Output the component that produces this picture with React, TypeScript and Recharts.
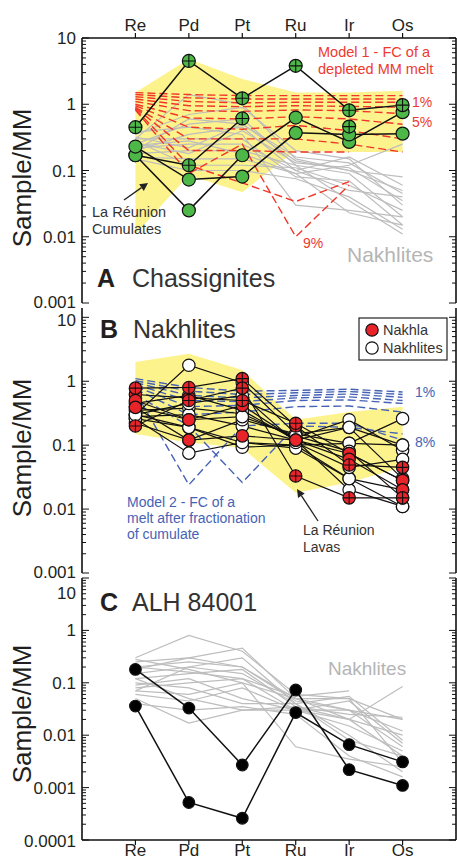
import { Area, ComposedChart, Line, Scatter, XAxis, YAxis } from 'recharts';

const FONT = '"Liberation Sans", Arial, Helvetica, sans-serif';
const INK = '#231f20';

const ELEMENTS = ['Re', 'Pd', 'Pt', 'Ru', 'Ir', 'Os'];
const X_INDEX = [0, 1, 2, 3, 4, 5];

// ---- panel A: chassignites ----
const cumulateLow = [0.011, 0.085, 0.047, 0.2, 0.19, 0.19];
const cumulateHigh = [1.5, 4.8, 2.4, 1.5, 1.5, 1.6];

const chassigniteLines = [
  [0.45, 4.5, 1.23, 3.8, 0.81, 0.97],
  [0.17, 0.12, 0.61, null, 0.46, null],
  [0.17, 0.025, 0.17, 0.63, 0.27, 0.76],
  [0.23, 0.073, 0.081, 0.37, 0.35, 0.36],
];
// 1 = crossed symbol
const chassigniteCross = [
  [1, 1, 1, 1, 1, 1],
  [0, 1, 1, 0, 1, 0],
  [0, 0, 0, 0, 0, 0],
  [0, 0, 0, 0, 0, 0],
];

const model1Lines = [
  [1.5, 1.4, 1.35, 1.35, 1.35, 1.35],
  [1.4, 1.25, 1.2, 1.2, 1.2, 1.2],
  [1.3, 1.1, 1.05, 1.07, 1.07, 1.07],
  [1.2, 0.95, 0.92, 0.95, 0.93, 0.9],
  [1.1, 0.8, 0.78, 0.82, 0.8, 0.72],
  [1.0, 0.62, 0.6, 0.65, 0.6, 0.5],
  [0.95, 0.45, 0.42, 0.48, 0.4, 0.3],
  [0.9, 0.3, 0.3, 0.3, 0.25, 0.19],
  [0.88, 0.2, 0.2, 0.19, 0.19, null],
  [0.85, 0.12, 0.065, 0.034, 0.068, null],
  [0.82, 0.09, 0.25, 0.01, 0.06, null],
];

const nakhliteGreyA = [
  [0.3, 1.4, 1.0, 0.15, 0.1, 0.05],
  [0.35, 0.7, 0.9, 0.2, 0.15, 0.03],
  [0.25, 0.5, 0.6, 0.12, 0.09, 0.02],
  [0.2, 0.35, 0.45, 0.1, 0.16, 0.06],
  [0.3, 0.3, 0.3, 0.08, 0.07, 0.015],
  [0.22, 0.25, 0.25, 0.1, 0.05, 0.04],
  [0.18, 0.2, 0.2, 0.12, 0.035, 0.011],
  [0.16, 0.15, 0.15, 0.09, 0.12, 0.25],
  [0.28, 0.12, 0.12, 0.11, 0.06, 0.025],
  [0.15, 0.1, 0.1, 0.075, 0.04, 0.013],
  [0.38, 0.45, 0.35, 0.03, 0.025, 0.02],
  [0.2, 0.6, 0.5, 0.14, 0.1, 0.08],
  [0.26, 0.18, 0.4, 0.13, 0.11, 0.035],
  [0.24, 0.28, 0.18, 0.09, 0.023, 0.015],
  [0.32, 0.22, 0.5, 0.16, 0.13, 0.045],
];

// ---- panel B: nakhlites ----
const lavaLow = [0.15, 0.11, 0.09, 0.018, 0.026, 0.045];
const lavaHigh = [2.0, 2.7, 1.5, 0.25, 0.33, 0.4];

const model2Lines = [
  [1.1, 0.8, 0.7, 0.72, 0.75, 0.68],
  [1.02, 0.7, 0.62, 0.66, 0.69, 0.62],
  [0.95, 0.6, 0.55, 0.6, 0.63, 0.56],
  [0.88, 0.5, 0.48, 0.55, 0.57, 0.5],
  [0.82, 0.4, 0.42, 0.5, 0.51, 0.45],
  [0.75, 0.3, 0.33, 0.4, 0.41, 0.33],
  [0.68, 0.024, 0.2, 0.22, 0.22, 0.12],
  [0.62, 0.2, 0.026, 0.2, 0.19, 0.15],
];

const nakhlaLines = [
  [0.78, 0.8, 1.1, 0.2, 0.049, 0.045],
  [0.2, 0.5, 0.78, 0.033, 0.015, 0.015],
  [0.62, 0.55, 0.5, 0.22, 0.074, 0.028],
  [0.5, 0.25, 0.42, 0.12, 0.074, 0.028],
  [0.39, 0.12, 0.14, 0.12, 0.06, 0.02],
];
const nakhlaCross = [
  [1, 1, 1, 1, 1, 1],
  [1, 1, 1, 1, 1, 1],
  [0, 0, 1, 1, 0, 0],
  [0, 0, 0, 0, 0, 0],
  [0, 0, 0, 0, 0, 0],
];

const otherNakhliteLines = [
  [0.3, 1.78, 0.95, 0.15, 0.19, 0.1],
  [0.26, 0.075, 0.11, 0.1, 0.107, 0.26],
  [0.3, 0.19, 0.093, 0.1, 0.03, 0.011],
  [0.35, 0.38, 0.31, 0.13, 0.25, 0.083],
  [0.28, 0.3, 0.2, 0.12, 0.02, 0.011],
  [0.22, 0.12, 0.25, 0.15, 0.107, 0.1],
  [0.45, 0.6, 0.35, 0.12, 0.19, 0.03],
  [0.26, 0.19, 0.11, 0.09, 0.03, 0.02],
  [0.3, 0.45, 0.6, 0.11, 0.045, 0.06],
  [0.4, 0.25, 0.28, 0.14, 0.08, 0.015],
];

// ---- panel C: ALH 84001 ----
const alhLines = [
  [0.18, 0.033, 0.0027, 0.073, 0.0022, 0.0011],
  [0.036, 0.00052, 0.00026, 0.027, 0.0066, 0.0031],
];

const nakhliteGreyC = [
  [0.3, 0.8, 0.4, 0.06, 0.05, 0.02],
  [0.25, 0.3, 0.46, 0.05, 0.02, 0.01],
  [0.2, 0.25, 0.2, 0.045, 0.03, 0.006],
  [0.15, 0.2, 0.15, 0.04, 0.055, 0.008],
  [0.12, 0.15, 0.18, 0.035, 0.02, 0.004],
  [0.08, 0.1, 0.12, 0.03, 0.015, 0.005],
  [0.07, 0.06, 0.1, 0.006, 0.0035, 0.0025],
  [0.06, 0.045, 0.08, 0.03, 0.02, 0.085],
  [0.05, 0.017, 0.03, 0.035, 0.025, 0.022],
  [0.28, 0.18, 0.1, 0.05, 0.05, 0.003],
  [0.1, 0.08, 0.04, 0.04, 0.01, 0.002],
  [0.04, 0.03, 0.035, 0.025, 0.004, 0.0016],
  [0.18, 0.3, 0.2, 0.05, 0.03, 0.012],
  [0.09, 0.12, 0.05, 0.03, 0.03, 0.02],
  [0.07, 0.2, 0.3, 0.04, 0.008, 0.004],
  [0.12, 0.05, 0.03, 0.03, 0.045, 0.007],
  [0.2, 0.16, 0.12, 0.055, 0.07, null],
];

const MAJORS_ABC = [0.001, 0.01, 0.1, 1, 10];
const LABELS_ABC = ['0.001', '0.01', '0.1', '1', '10'];
const MAJORS_C = [0.0001, 0.001, 0.01, 0.1, 1, 10];
const LABELS_C = ['0.0001', '0.001', '0.01', '0.1', '1', '10'];
const MINOR_STEPS = [2, 3, 4, 5, 6, 7, 8, 9];

const PLOT_LEFT = 82;
const PLOT_RIGHT = 456;
const H = 861;

function withMinors(majors: number[]) {
  const out = [...majors];
  majors.slice(0, -1).forEach((m) => MINOR_STEPS.forEach((s) => out.push(m * s)));
  return out.sort((a, b) => a - b);
}

function makeRows(series: Record<string, (number | null)[][]>, bands: Record<string, number[][]>) {
  return X_INDEX.map((i) => {
    const row: Record<string, any> = { x: i };
    Object.entries(series).forEach(([key, lines]) =>
      lines.forEach((vals, j) => {
        row[`${key}${j}`] = vals[i];
      })
    );
    Object.entries(bands).forEach(([key, [lo, hi]]) => {
      row[key] = [lo[i], hi[i]];
    });
    return row;
  });
}

function marks(lines: (number | null)[][], types: number[][] | null, want: number) {
  const pts: { x: number; y: number }[] = [];
  lines.forEach((vals, j) =>
    vals.forEach((v, i) => {
      const t = types ? types[j][i] : 0;
      if (v != null && t === want) pts.push({ x: i, y: v });
    })
  );
  return pts;
}

const circle = (fill: string, r: number, crossed: boolean) => (p: any) => {
  const { cx, cy } = p;
  if (cx == null || cy == null) return <g />;
  return (
    <g>
      <circle cx={cx} cy={cy} r={r} fill={fill} stroke="#111" strokeWidth={1.2} />
      {crossed && (
        <path
          d={`M${cx - r} ${cy}H${cx + r}M${cx} ${cy - r}V${cy + r}`}
          stroke="#111"
          strokeWidth={1.1}
        />
      )}
    </g>
  );
};

const lineSet = (key: string, lines: any[], stroke: string, width: number, dash?: string) =>
  lines.map((_, j) => (
    <Line
      key={`${key}${j}`}
      dataKey={`${key}${j}`}
      stroke={stroke}
      strokeWidth={width}
      strokeDasharray={dash}
      dot={false}
      activeDot={false}
      connectNulls={false}
      isAnimationActive={false}
    />
  ));

const xTick = (edge: number, dir: number, labelY: number | null) => (p: any) => {
  const { x, payload } = p;
  return (
    <g>
      <line x1={x} x2={x} y1={edge} y2={edge + dir * 5} stroke="#111" strokeWidth={1.2} />
      {labelY != null && (
        <text x={x} y={labelY} textAnchor="middle" fontSize={17} fontFamily={FONT} fill={INK}>
          {ELEMENTS[payload.value]}
        </text>
      )}
    </g>
  );
};

const yTick =
  (side: 'left' | 'right', majors: number[], labels: string[], shifts: Record<string, number>) =>
  (p: any) => {
    const { y, payload } = p;
    const idx = majors.indexOf(payload.value);
    const major = idx >= 0;
    const x0 = side === 'left' ? PLOT_LEFT : PLOT_RIGHT;
    const dir = side === 'left' ? 1 : -1;
    const lab = major ? labels[idx] : '';
    return (
      <g>
        <line x1={x0} x2={x0 + dir * (major ? 7 : 4)} y1={y} y2={y} stroke="#111" strokeWidth={1} />
        {side === 'left' && major && (
          <text
            x={PLOT_LEFT - 6}
            y={y + (shifts[lab] || 0) + 6}
            textAnchor="end"
            fontSize={17}
            fontFamily={FONT}
            fill={INK}
          >
            {lab}
          </text>
        )}
      </g>
    );
  };

interface PanelProps {
  top: number;
  bottom: number;
  domain: number[];
  majors: number[];
  labels: string[];
  shifts: Record<string, number>;
  rows: any[];
  topLabels?: boolean;
  bottomLabels?: boolean;
  children: any;
}

function Panel({ top, bottom, domain, majors, labels, shifts, rows, topLabels, bottomLabels, children }: PanelProps) {
  const ticks = withMinors(majors);
  const axisLine = { stroke: '#111', strokeWidth: 1.6 };
  return (
    <div style={{ position: 'absolute', left: 0, top: 0 }}>
      <ComposedChart
        width={457}
        height={H}
        data={rows}
        margin={{ top: topLabels ? 0 : top, bottom: bottomLabels ? 0 : H - bottom, left: 0, right: 0 }}
      >
        <XAxis
          dataKey="x"
          type="number"
          domain={[-1, 6]}
          ticks={X_INDEX}
          orientation="top"
          height={topLabels ? top : 0}
          axisLine={axisLine}
          tickLine={false}
          interval={0}
          tick={xTick(top, -1, topLabels ? 31 : null)}
        />
        <XAxis
          xAxisId="b"
          dataKey="x"
          type="number"
          domain={[-1, 6]}
          ticks={X_INDEX}
          orientation="bottom"
          height={bottomLabels ? H - bottom : 0}
          axisLine={axisLine}
          tickLine={false}
          interval={0}
          tick={xTick(bottom, 1, bottomLabels ? bottom + 16 : null)}
        />
        <YAxis
          type="number"
          scale="log"
          domain={domain}
          allowDataOverflow
          ticks={ticks}
          interval={0}
          width={PLOT_LEFT}
          axisLine={axisLine}
          tickLine={false}
          tick={yTick('left', majors, labels, shifts)}
        />
        <YAxis
          yAxisId="r"
          orientation="right"
          type="number"
          scale="log"
          domain={domain}
          allowDataOverflow
          ticks={ticks}
          interval={0}
          width={457 - PLOT_RIGHT}
          axisLine={axisLine}
          tickLine={false}
          tick={yTick('right', majors, labels, shifts)}
        />
        {children}
      </ComposedChart>
    </div>
  );
}

const rowsA = makeRows(
  { g: nakhliteGreyA, m: model1Lines, c: chassigniteLines },
  { band: [cumulateLow, cumulateHigh] }
);
const rowsB = makeRows(
  { m: model2Lines, w: otherNakhliteLines, n: nakhlaLines },
  { band: [lavaLow, lavaHigh] }
);
const rowsC = makeRows({ g: nakhliteGreyC, a: alhLines }, {});

const GREEN = '#4db748';
const RED = '#e8232a';
const RED_TXT = '#ee3a2e';
const BLUE = '#4662b5';
const GREY = '#bdbdbd';
const YELLOW = '#fdf38c';

function Arrow({ x1, y1, x2, y2 }: { x1: number; y1: number; x2: number; y2: number }) {
  const a = Math.atan2(y2 - y1, x2 - x1);
  const l = 8;
  const w = 4;
  const bx = x2 - l * Math.cos(a);
  const by = y2 - l * Math.sin(a);
  const px = -Math.sin(a) * w;
  const py = Math.cos(a) * w;
  return (
    <g>
      <line x1={x1} y1={y1} x2={bx} y2={by} stroke="#222" strokeWidth={1.3} />
      <polygon points={`${x2},${y2} ${bx + px},${by + py} ${bx - px},${by - py}`} fill="#222" />
    </g>
  );
}

export default function App() {
  return (
    <div
      style={{
        position: 'absolute',
        left: 0,
        top: 0,
        width: 457,
        height: H,
        background: '#fff',
        overflow: 'hidden',
        fontFamily: FONT,
      }}
    >
      <Panel
        top={38}
        bottom={303}
        domain={[0.001, 10]}
        majors={MAJORS_ABC}
        labels={LABELS_ABC}
        shifts={{ '0.001': -1 }}
        rows={rowsA}
        topLabels
      >
        <Area dataKey="band" stroke="none" fill={YELLOW} fillOpacity={1} isAnimationActive={false} activeDot={false} />
        {lineSet('g', nakhliteGreyA, GREY, 1.2)}
        {lineSet('m', model1Lines, '#f0362a', 1.4, '8 4')}
        {lineSet('c', chassigniteLines, '#111', 1.5)}
        <Scatter data={marks(chassigniteLines, chassigniteCross, 0)} dataKey="y" shape={circle(GREEN, 6.5, false)} isAnimationActive={false} />
        <Scatter data={marks(chassigniteLines, chassigniteCross, 1)} dataKey="y" shape={circle(GREEN, 6.5, true)} isAnimationActive={false} />
      </Panel>

      <Panel
        top={308}
        bottom={573}
        domain={[0.001, 14]}
        majors={MAJORS_ABC}
        labels={LABELS_ABC}
        shifts={{ '10': 3, '0.001': -1 }}
        rows={rowsB}
      >
        <Area dataKey="band" stroke="none" fill={YELLOW} fillOpacity={1} isAnimationActive={false} activeDot={false} />
        {lineSet('m', model2Lines, BLUE, 1.4, '8 4')}
        {lineSet('w', otherNakhliteLines, '#111', 1.2)}
        {lineSet('n', nakhlaLines, '#111', 1.2)}
        <Scatter data={marks(otherNakhliteLines, null, 0)} dataKey="y" shape={circle('#fff', 6.2, false)} isAnimationActive={false} />
        <Scatter data={marks(nakhlaLines, nakhlaCross, 0)} dataKey="y" shape={circle(RED, 6.2, false)} isAnimationActive={false} />
        <Scatter data={marks(nakhlaLines, nakhlaCross, 1)} dataKey="y" shape={circle(RED, 6.2, true)} isAnimationActive={false} />
      </Panel>

      <Panel
        top={578}
        bottom={840}
        domain={[0.0001, 10]}
        majors={MAJORS_C}
        labels={LABELS_C}
        shifts={{ '10': 15, '0.0001': 1 }}
        rows={rowsC}
        bottomLabels
      >
        {lineSet('g', nakhliteGreyC, GREY, 1.2)}
        {lineSet('a', alhLines, '#111', 1.5)}
        <Scatter data={marks(alhLines, null, 0)} dataKey="y" shape={circle('#000', 5.8, false)} isAnimationActive={false} />
      </Panel>

      <svg width={457} height={H} style={{ position: 'absolute', left: 0, top: 0, pointerEvents: 'none' }} fontFamily={FONT}>
        {[178, 448, 714].map((cy) => (
          <text key={cy} x={22} y={cy} transform={`rotate(-90 22 ${cy})`} textAnchor="middle" dominantBaseline="central" fontSize={26} fill={INK}>
            Sample/MM
          </text>
        ))}

        {/* panel A */}
        <text x={318} y={57} fontSize={14.5} fill={RED_TXT}>Model 1 - FC of a</text>
        <text x={318} y={74} fontSize={14.5} fill={RED_TXT}>depleted MM melt</text>
        <text x={412} y={107} fontSize={14} fill={RED_TXT}>1%</text>
        <text x={412} y={127} fontSize={14} fill={RED_TXT}>5%</text>
        <text x={303} y={248} fontSize={14} fill={RED_TXT}>9%</text>
        <text x={347} y={262} fontSize={21} fill="#b5b5b5">Nakhlites</text>
        <text x={92} y={217} fontSize={14.5} fill="#333">La Réunion</text>
        <text x={92} y={234} fontSize={14.5} fill="#333">Cumulates</text>
        <Arrow x1={124} y1={200} x2={148} y2={183} />
        <text x={97} y={287} fontSize={25} fontWeight="bold" fill={INK}>A</text>
        <text x={132} y={287} fontSize={25} fill="#333">Chassignites</text>

        {/* panel B */}
        <text x={100} y={338} fontSize={25} fontWeight="bold" fill={INK}>B</text>
        <text x={133} y={338} fontSize={25} fill="#333">Nakhlites</text>
        <rect x={359} y={318} width={88} height={42} fill="#fff" stroke="#222" strokeWidth={1.2} />
        <circle cx={372} cy={330} r={6.2} fill={RED} stroke="#111" strokeWidth={1.2} />
        <circle cx={372} cy={348} r={6.2} fill="#fff" stroke="#111" strokeWidth={1.2} />
        <text x={383} y={335} fontSize={14.5} fill="#333">Nakhla</text>
        <text x={383} y={353} fontSize={14.5} fill="#333">Nakhlites</text>
        <text x={415} y={397} fontSize={14} fill={BLUE}>1%</text>
        <text x={415} y={447} fontSize={14} fill={BLUE}>8%</text>
        <text x={127} y={507} fontSize={14} fill={BLUE}>Model 2 - FC of a</text>
        <text x={127} y={523} fontSize={14} fill={BLUE}>melt after fractionation</text>
        <text x={127} y={539} fontSize={14} fill={BLUE}>of cumulate</text>
        <text x={303} y={535} fontSize={14} fill="#333">La Réunion</text>
        <text x={303} y={552} fontSize={14} fill="#333">Lavas</text>
        <Arrow x1={318} y1={521} x2={297} y2={489} />

        {/* panel C */}
        <text x={100} y={611} fontSize={25} fontWeight="bold" fill={INK}>C</text>
        <text x={132} y={611} fontSize={25} fill="#333">ALH 84001</text>
        <text x={328} y={675} fontSize={19} fill="#b5b5b5">Nakhlites</text>
      </svg>
    </div>
  );
}
